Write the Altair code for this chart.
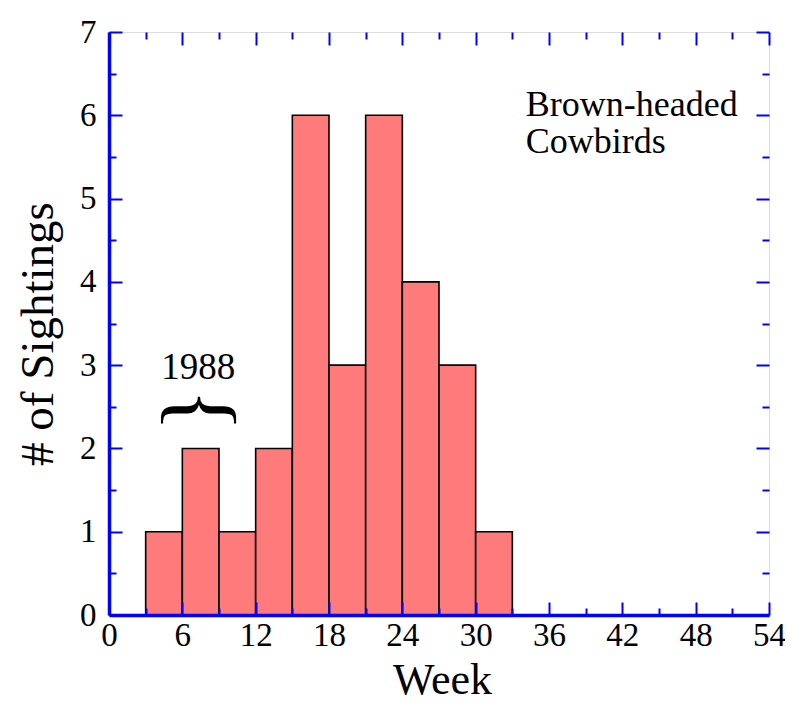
import altair as alt
import pandas as pd

# ---- data ----
week_start = [3, 6, 9, 12, 15, 18, 21, 24, 27, 30]
week_end = [6, 9, 12, 15, 18, 21, 24, 27, 30, 33]
sightings = [1, 2, 1, 2, 6, 3, 6, 4, 3, 1]

x_major = [0, 6, 12, 18, 24, 30, 36, 42, 48, 54]
x_minor = [3, 9, 15, 21, 27, 33, 39, 45, 51]
y_major = [0, 1, 2, 3, 4, 5, 6, 7]
y_minor = [0.5, 1.5, 2.5, 3.5, 4.5, 5.5, 6.5]

note_year = ["1988"]
note_year_x = [7.3]
note_year_y = [2.97]
brace_x = [7.45]
brace_y = [2.46]
species = [["Brown-headed", "Cowbirds"]]
species_x = [34.1]
species_y = [5.99]

bars = pd.DataFrame({"start": week_start, "end": week_end, "count": sightings})

FONT = "Liberation Serif"
BLUE = "#0000ff"
W, H = 660, 583

xs = alt.Scale(domain=[0, 54], nice=False, zero=False)
ys = alt.Scale(domain=[0, 7], nice=False, zero=False)


def tick_axis(orient, values, size):
    return alt.Axis(orient=orient, values=values, tickSize=size, offset=-size,
                    labels=False, domain=False, grid=False, ticks=True,
                    tickColor=BLUE, tickWidth=2, title=None, zindex=2)


x_label_axis = alt.Axis(orient="bottom", values=x_major, ticks=False, grid=False,
                        domain=True, domainColor=BLUE, domainWidth=3.5,
                        labelFont=FONT, labelFontSize=33, labelColor="black",
                        labelPadding=4, labelFlush=False, labelOverlap=False,
                        title="Week", titleFont=FONT, titleFontSize=44,
                        titleFontWeight="normal", titleColor="black",
                        titleX=W / 2 + 3, titleY=78, titleBaseline="alphabetic",
                        titleAnchor="middle", zindex=2)
y_label_axis = alt.Axis(orient="left", values=y_major, ticks=False, grid=False,
                        domain=True, domainColor=BLUE, domainWidth=3.5,
                        labelFont=FONT, labelFontSize=33, labelColor="black",
                        labelPadding=13, labelFlush=False, labelOverlap=False,
                        title="# of Sightings", titleFont=FONT, titleFontSize=47,
                        titleFontWeight="normal", titleColor="black",
                        titleX=-71, titleY=H / 2 + 10, titleAngle=-90,
                        titleBaseline="middle", titleAlign="center", zindex=2)

bar_layer = alt.Chart(bars).mark_bar(fill="#ff7a7a", stroke="black",
                                     strokeWidth=1.6).encode(
    x=alt.X("start:Q", scale=xs, axis=x_label_axis),
    x2="end:Q",
    y=alt.Y("count:Q", scale=ys, axis=y_label_axis),
    y2=alt.datum(0),
)


def tick_layer(xorient, xvals, xsize, yorient, yvals, ysize):
    return alt.Chart(bars).mark_point(opacity=0).encode(
        x=alt.X("start:Q", scale=xs, axis=tick_axis(xorient, xvals, xsize)),
        y=alt.Y("count:Q", scale=ys, axis=tick_axis(yorient, yvals, ysize)),
    )


t1 = tick_layer("bottom", x_major, 13, "left", y_major, 13)
t2 = tick_layer("bottom", x_minor, 7, "left", y_minor, 7)
t3 = tick_layer("top", x_major, 13, "right", y_major, 13)
t4 = tick_layer("top", x_minor, 7, "right", y_minor, 7)

year_df = pd.DataFrame({"x": note_year_x, "y": note_year_y, "t": note_year})
year_layer = alt.Chart(year_df).mark_text(font=FONT, fontSize=37, align="center",
                                          baseline="middle", color="black").encode(
    x=alt.X("x:Q", scale=xs, axis=None), y=alt.Y("y:Q", scale=ys, axis=None),
    text="t:N")

brace_df = pd.DataFrame({"x": brace_x, "y": brace_y, "t": ["{"]})
brace_layer = alt.Chart(brace_df).mark_text(font=FONT, fontSize=90, align="center",
                                            baseline="middle", angle=90,
                                            color="black").encode(
    x=alt.X("x:Q", scale=xs, axis=None), y=alt.Y("y:Q", scale=ys, axis=None),
    text="t:N")

species_df = pd.DataFrame({"x": species_x, "y": species_y})
species_layer = alt.Chart(species_df).mark_text(font=FONT, fontSize=36, align="left",
                                                baseline="alphabetic", lineHeight=37,
                                                color="black",
                                                text=species[0]).encode(
    x=alt.X("x:Q", scale=xs, axis=None), y=alt.Y("y:Q", scale=ys, axis=None))

chart = alt.layer(bar_layer, t1, t2, t3, t4, year_layer, brace_layer,
                  species_layer).resolve_axis(x="independent", y="independent").properties(
    width=W, height=H,
    autosize=alt.AutoSizeParams(type="none"),
    padding={"left": 101, "top": 24, "right": 16, "bottom": 88},
).configure_view(stroke=BLUE, strokeWidth=3.5).configure(background="white")

chart.save("out.html", embed_options={"renderer": "svg", "actions": False})
